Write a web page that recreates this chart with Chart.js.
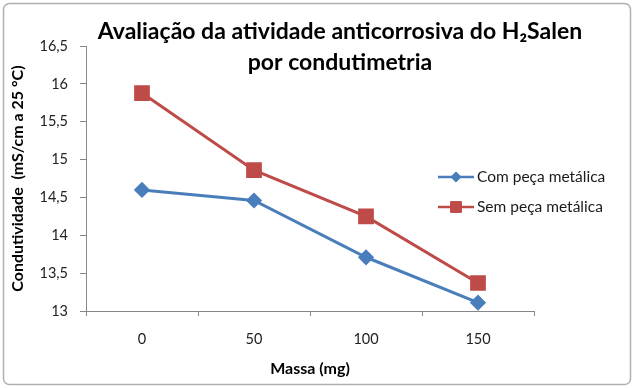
<!DOCTYPE html>
<html>
<head>
<meta charset="utf-8">
<script src="https://cdn.jsdelivr.net/npm/chart.js@4/dist/chart.umd.min.js"></script>
<style>
  html, body { margin: 0; padding: 0; background: #fff; }
  #wrap { width: 634px; height: 388px; }
</style>
</head>
<body>
<div id="wrap"><canvas id="condChart" width="634" height="388"></canvas></div>
<script>
// data
const massas = ['0', '50', '100', '150'];
const comPeca = [14.60, 14.46, 13.71, 13.11];
const semPeca = [15.88, 14.86, 14.25, 13.37];
const yTicks = [13, 13.5, 14, 14.5, 15, 15.5, 16, 16.5];

const FONT = 'Lato, "Open Sans", sans-serif';
const BLUE = '#4a7ebb';
const RED = '#be4b48';

// white background + rounded frame
const framePlugin = {
    id: 'frame',
    beforeDraw(chart) {
        const c = chart.ctx;
        c.save();
        c.fillStyle = '#fff';
        c.fillRect(0, 0, chart.width, chart.height);
        c.strokeStyle = '#b0b0b0';
        c.lineWidth = 1.5;
        c.beginPath();
        c.roundRect(3.5, 3.5, chart.width - 7, chart.height - 7, 6);
        c.stroke();
        c.restore();
    }
};

// the title in the original sits a bit right of the plot centre
const titleShift = {
    id: 'titleShift',
    afterLayout(chart) {
        const t = chart.titleBlock;
        if (t) { t.left = 46; t.right = 634; }
    }
};

// Excel-like legend: line with marker, floating on the right
const legendPlugin = {
    id: 'sideLegend',
    afterDraw(chart) {
        const c = chart.ctx;
        const x0 = 438, x1 = 474, yStart = 177, gap = 30;
        c.save();
        chart.data.datasets.forEach((ds, i) => {
            const y = yStart + i * gap;
            c.strokeStyle = ds.borderColor;
            c.lineWidth = 2.5;
            c.beginPath();
            c.moveTo(x0, y);
            c.lineTo(x1, y);
            c.stroke();
            c.fillStyle = ds.pointBackgroundColor;
            c.strokeStyle = ds.pointBorderColor;
            c.lineWidth = 1;
            Chart.helpers.drawPoint(c, {
                pointStyle: ds.pointStyle,
                radius: ds.pointRadius * 0.85,
                rotation: 0,
                borderWidth: 1
            }, (x0 + x1) / 2, y);
            c.fillStyle = '#1a1a1a';
            c.font = '15.5px ' + FONT;
            c.textBaseline = 'middle';
            c.textAlign = 'left';
            c.fillText(ds.label, x1 + 3, y);
        });
        c.restore();
    }
};

const ctx = document.getElementById('condChart').getContext('2d');
const chart = new Chart(ctx, {
    type: 'line',
    data: {
        labels: massas,
        datasets: [{
            label: 'Com peça metálica',
            data: comPeca,
            borderColor: BLUE,
            backgroundColor: BLUE,
            pointBackgroundColor: BLUE,
            pointBorderColor: BLUE,
            pointStyle: 'rectRot',
            pointRadius: 6,
            borderWidth: 3,
            fill: false,
            tension: 0
        }, {
            label: 'Sem peça metálica',
            data: semPeca,
            borderColor: RED,
            backgroundColor: RED,
            pointBackgroundColor: RED,
            pointBorderColor: RED,
            pointStyle: 'rect',
            pointRadius: 9,
            borderWidth: 3,
            fill: false,
            tension: 0
        }]
    },
    options: {
        responsive: false,
        animation: false,
        layout: { padding: { left: 6, right: 100, top: 0, bottom: 6 } },
        plugins: {
            legend: { display: false },
            tooltip: { enabled: false },
            title: {
                display: true,
                text: ['Avaliação da atividade anticorrosiva do H₂Salen', 'por condutimetria'],
                color: '#000',
                font: { family: FONT, size: 23, weight: 'bold', lineHeight: 1.35 },
                padding: { top: 16.5, bottom: -32.5 }
            }
        },
        scales: {
            x: {
                offset: true,
                grid: { offset: true, drawOnChartArea: false, drawTicks: true, tickLength: 5, color: '#868686' },
                border: { color: '#868686', width: 1 },
                ticks: { color: '#222', padding: 15, font: { family: FONT, size: 14.5 } },
                title: {
                    display: true,
                    text: 'Massa (mg)',
                    color: '#000',
                    font: { family: FONT, size: 16, weight: 'bold' },
                    padding: { top: 0, bottom: 3.5 }
                },
                afterFit(scale) { scale.height = 71; }
            },
            y: {
                min: 13,
                max: 16.5,
                afterBuildTicks(scale) { scale.ticks = yTicks.map(v => ({ value: v })); },
                grid: { drawOnChartArea: false, drawTicks: true, tickLength: 6, color: '#868686' },
                border: { color: '#868686', width: 1 },
                ticks: {
                    color: '#222',
                    padding: 12,
                    font: { family: FONT, size: 14.5 },
                    callback: v => String(v).replace('.', ',')
                },
                title: {
                    display: true,
                    text: 'Condutividade  (mS/cm a 25 °C)',
                    color: '#000',
                    font: { family: FONT, size: 16, weight: 'bold' },
                    padding: { top: 2.5, bottom: 0 }
                },
                afterFit(scale) { scale.width = 80; }
            }
        }
    },
    plugins: [framePlugin, titleShift, legendPlugin]
});
</script>
</body>
</html>
